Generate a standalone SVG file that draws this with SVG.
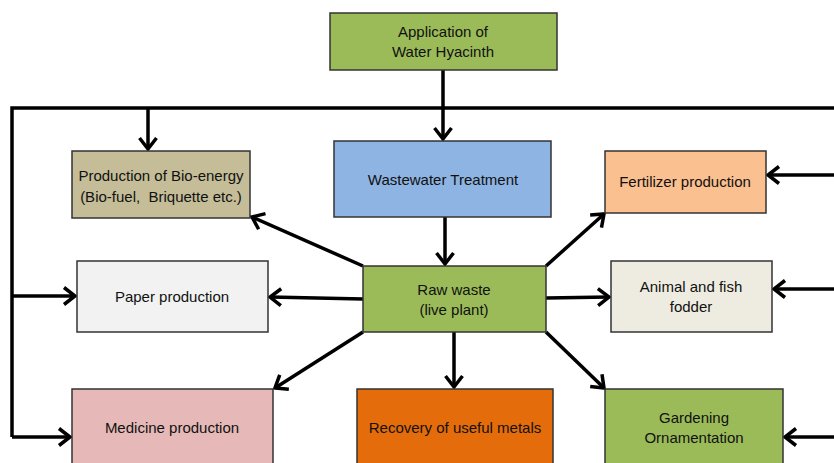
<svg xmlns="http://www.w3.org/2000/svg" width="834" height="463" viewBox="0 0 834 463">
<style>
.box{stroke:#333;stroke-width:1.5}
.t{font-family:"Liberation Sans",Arial,sans-serif;font-size:15px;fill:#111;text-anchor:middle}
.c{stroke:#000;stroke-width:3.5;fill:none}
.a{marker-end:url(#ah)}
</style>
<defs>
<marker id="ah" markerUnits="userSpaceOnUse" markerWidth="24" markerHeight="24" viewBox="-14 -12 18 24" refX="0" refY="0" orient="auto">
<path d="M-11,-8.5 L0,0 L-11,8.5" fill="none" stroke="#000" stroke-width="3.5"/>
</marker>
</defs>
<rect width="834" height="463" fill="#fff"/>
<g id="connectors">
<polyline class="c" points="834,108 12,108 12,437"/>
<line class="c a" x1="443" y1="70" x2="443" y2="139"/>
<line class="c a" x1="148" y1="108" x2="148" y2="149"/>
<line class="c a" x1="12" y1="296" x2="75" y2="296"/>
<line class="c a" x1="12" y1="437" x2="70" y2="437"/>
<line class="c a" x1="834" y1="175" x2="768" y2="175"/>
<line class="c a" x1="834" y1="289" x2="774" y2="289"/>
<line class="c a" x1="834" y1="437" x2="785" y2="437"/>
<line class="c a" x1="445" y1="217" x2="445" y2="264"/>
<line class="c a" x1="363" y1="266" x2="252" y2="217"/>
<line class="c a" x1="363" y1="299" x2="270" y2="297"/>
<line class="c a" x1="363" y1="332" x2="275" y2="388"/>
<line class="c a" x1="454" y1="332" x2="454" y2="387"/>
<line class="c a" x1="546" y1="332" x2="604" y2="388"/>
<line class="c a" x1="546" y1="298" x2="609" y2="297"/>
<line class="c a" x1="546" y1="266" x2="604" y2="214"/>
</g>
<g id="application">
<rect class="box" x="330" y="13" width="227" height="57" fill="#9BBB59"/>
<text class="t" x="443" y="37">Application of</text>
<text class="t" x="443" y="57">Water Hyacinth</text>
</g>
<g id="wastewater">
<rect class="box" x="334" y="141" width="217" height="76" fill="#8EB4E3"/>
<text class="t" x="443" y="185">Wastewater Treatment</text>
</g>
<g id="bioenergy">
<rect class="box" x="72" y="151" width="178" height="67" fill="#C4BD97"/>
<text class="t" x="161" y="181">Production of Bio-energy</text>
<text class="t" x="161" y="202" xml:space="preserve">(Bio-fuel,  Briquette etc.)</text>
</g>
<g id="fertilizer">
<rect class="box" x="605" y="151" width="161" height="62" fill="#FAC090"/>
<text class="t" x="685" y="187">Fertilizer production</text>
</g>
<g id="paper">
<rect class="box" x="77" y="261" width="191" height="71" fill="#F2F2F2"/>
<text class="t" x="172" y="302">Paper production</text>
</g>
<g id="rawwaste">
<rect class="box" x="363" y="266" width="183" height="66" fill="#9BBB59"/>
<text class="t" x="454" y="295">Raw waste</text>
<text class="t" x="454" y="315">(live plant)</text>
</g>
<g id="animal">
<rect class="box" x="611" y="261" width="161" height="71" fill="#EEECE1"/>
<text class="t" x="691" y="292">Animal and fish</text>
<text class="t" x="691" y="312">fodder</text>
</g>
<g id="medicine">
<rect class="box" x="72" y="389" width="201" height="80" fill="#E6B9B8"/>
<text class="t" x="172" y="433">Medicine production</text>
</g>
<g id="recovery">
<rect class="box" x="357" y="389" width="196" height="80" fill="#E46C0A"/>
<text class="t" x="455" y="433">Recovery of useful metals</text>
</g>
<g id="gardening">
<rect class="box" x="605" y="389" width="178" height="80" fill="#9BBB59"/>
<text class="t" x="694" y="423">Gardening</text>
<text class="t" x="694" y="443">Ornamentation</text>
</g>
</svg>
